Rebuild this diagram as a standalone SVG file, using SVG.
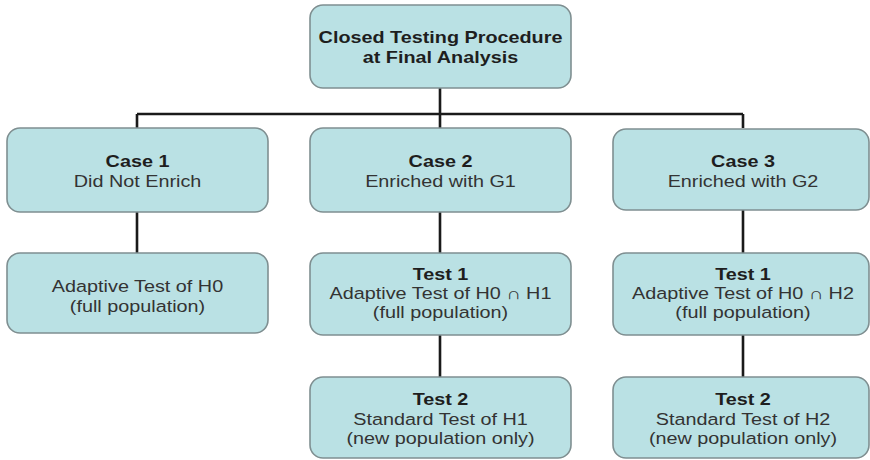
<svg xmlns="http://www.w3.org/2000/svg" width="870" height="460" viewBox="0 0 870 460">
  <style>
    .box { fill: #bae1e4; stroke: #7f8f91; stroke-width: 1.6; }
    .wire { stroke: #1a1a1a; stroke-width: 2.6; fill: none; }
    text { font-family: "Liberation Sans", Arial, sans-serif; font-size: 16.5px; text-anchor: middle; }
    .b { font-weight: bold; fill: #1e1e1e; }
    .r { fill: #333333; }
  </style>
  <rect width="870" height="460" fill="#ffffff"/>

  <!-- connectors -->
  <g id="connectors">
    <path class="wire" d="M440 88 V114 M137 114 H743 M137 114 V128 M440 114 V128 M743 114 V128"/>
    <path class="wire" d="M137 212 V253 M440 212 V253 M743 210 V253"/>
    <path class="wire" d="M440 335 V377 M743 335 V377"/>
  </g>

  <!-- root -->
  <g id="root">
    <rect class="box" x="310" y="5" width="261" height="83" rx="13"/>
    <g transform="translate(440.5 0) scale(1.2 1)">
      <text class="b" x="0" y="43">Closed Testing Procedure</text>
      <text class="b" x="0" y="63">at Final Analysis</text>
    </g>
  </g>

  <!-- second row: cases -->
  <g id="case1">
    <rect class="box" x="7" y="128" width="261" height="84" rx="13"/>
    <g transform="translate(137.5 0) scale(1.2 1)">
      <text class="b" x="0" y="167">Case 1</text>
      <text class="r" x="0" y="187">Did Not Enrich</text>
    </g>
  </g>
  <g id="case2">
    <rect class="box" x="310" y="128" width="261" height="84" rx="13"/>
    <g transform="translate(440.5 0) scale(1.2 1)">
      <text class="b" x="0" y="167">Case 2</text>
      <text class="r" x="0" y="187">Enriched with G1</text>
    </g>
  </g>
  <g id="case3">
    <rect class="box" x="613" y="129" width="256" height="81" rx="13"/>
    <g transform="translate(743 0) scale(1.2 1)">
      <text class="b" x="0" y="167">Case 3</text>
      <text class="r" x="0" y="187">Enriched with G2</text>
    </g>
  </g>

  <!-- third row: first tests -->
  <g id="adaptive-h0">
    <rect class="box" x="7" y="253" width="261" height="80" rx="13"/>
    <g transform="translate(137.5 0) scale(1.2 1)">
      <text class="r" x="0" y="292">Adaptive Test of H0</text>
      <text class="r" x="0" y="312">(full population)</text>
    </g>
  </g>
  <g id="case2-test1">
    <rect class="box" x="310" y="253" width="261" height="82" rx="13"/>
    <g transform="translate(440.5 0) scale(1.2 1)">
      <text class="b" x="0" y="280">Test 1</text>
      <text class="r" x="0" y="299">Adaptive Test of H0 ∩ H1</text>
      <text class="r" x="0" y="318">(full population)</text>
    </g>
  </g>
  <g id="case3-test1">
    <rect class="box" x="613" y="253" width="256" height="82" rx="13"/>
    <g transform="translate(743 0) scale(1.2 1)">
      <text class="b" x="0" y="280">Test 1</text>
      <text class="r" x="0" y="299">Adaptive Test of H0 ∩ H2</text>
      <text class="r" x="0" y="318">(full population)</text>
    </g>
  </g>

  <!-- fourth row: second tests -->
  <g id="case2-test2">
    <rect class="box" x="310" y="377" width="261" height="81" rx="13"/>
    <g transform="translate(440.5 0) scale(1.2 1)">
      <text class="b" x="0" y="405">Test 2</text>
      <text class="r" x="0" y="425">Standard Test of H1</text>
      <text class="r" x="0" y="444">(new population only)</text>
    </g>
  </g>
  <g id="case3-test2">
    <rect class="box" x="613" y="377" width="256" height="81" rx="13"/>
    <g transform="translate(743 0) scale(1.2 1)">
      <text class="b" x="0" y="405">Test 2</text>
      <text class="r" x="0" y="425">Standard Test of H2</text>
      <text class="r" x="0" y="444">(new population only)</text>
    </g>
  </g>
</svg>
